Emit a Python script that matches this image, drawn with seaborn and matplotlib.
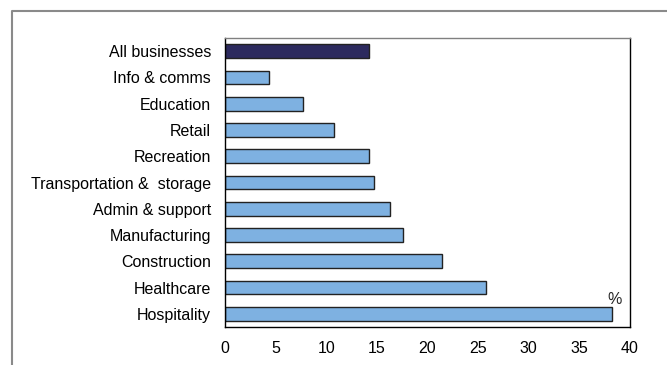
import matplotlib
matplotlib.use("Agg")
import matplotlib.pyplot as plt
from matplotlib.lines import Line2D
import seaborn as sns
import pandas as pd

categories = ["All businesses", "Info & comms", "Education", "Retail", "Recreation",
              "Transportation &  storage", "Admin & support", "Manufacturing",
              "Construction", "Healthcare", "Hospitality"]
values = [14.2, 4.3, 7.7, 10.8, 14.2, 14.7, 16.3, 17.6, 21.4, 25.8, 38.2]
groups = ["all"] + ["sector"] * 10
x_ticks = [0, 5, 10, 15, 20, 25, 30, 35, 40]

sns.set_style("white")
plt.rcParams["font.family"] = ["Liberation Sans", "DejaVu Sans"]

df = pd.DataFrame({"category": categories, "value": values, "group": groups})

fig = plt.figure(figsize=(6.67, 3.65), dpi=100)
ax = fig.add_axes([225/667, 1 - 327/365, (630 - 225)/667, (327 - 38)/365])

sns.barplot(data=df, y="category", x="value", hue="group", order=categories,
            palette={"all": "#2C2A5E", "sector": "#7EB1E1"}, dodge=False,
            saturation=1, width=0.52, edgecolor="#222222", linewidth=1.0,
            legend=False, ax=ax)

ax.set_xlim(0, 40)
ax.set_ylim(10.5, -0.5)
ax.set_xticks(x_ticks)
ax.set_xticklabels([str(t) for t in x_ticks])
ax.set_xlabel("")
ax.set_ylabel("")
ax.tick_params(axis="both", length=0, labelsize=11.5, colors="#000000")
ax.tick_params(axis="x", pad=10)
ax.tick_params(axis="y", pad=10)
for side in ["left", "right", "bottom"]:
    ax.spines[side].set_color("#000000")
    ax.spines[side].set_linewidth(1.0)
ax.spines["top"].set_color("#808080")
ax.spines["top"].set_linewidth(1.0)

ax.text(0.963, 0.095, "%", transform=ax.transAxes, fontsize=11.5, ha="center", va="center")

# outer frame
fig.add_artist(Line2D([12/667, 12/667, 1.0], [0.0, 1 - 11/365, 1 - 11/365],
                      transform=fig.transFigure, color="#8a8a8a", linewidth=1.5))

fig.savefig("out.png", dpi=100)
